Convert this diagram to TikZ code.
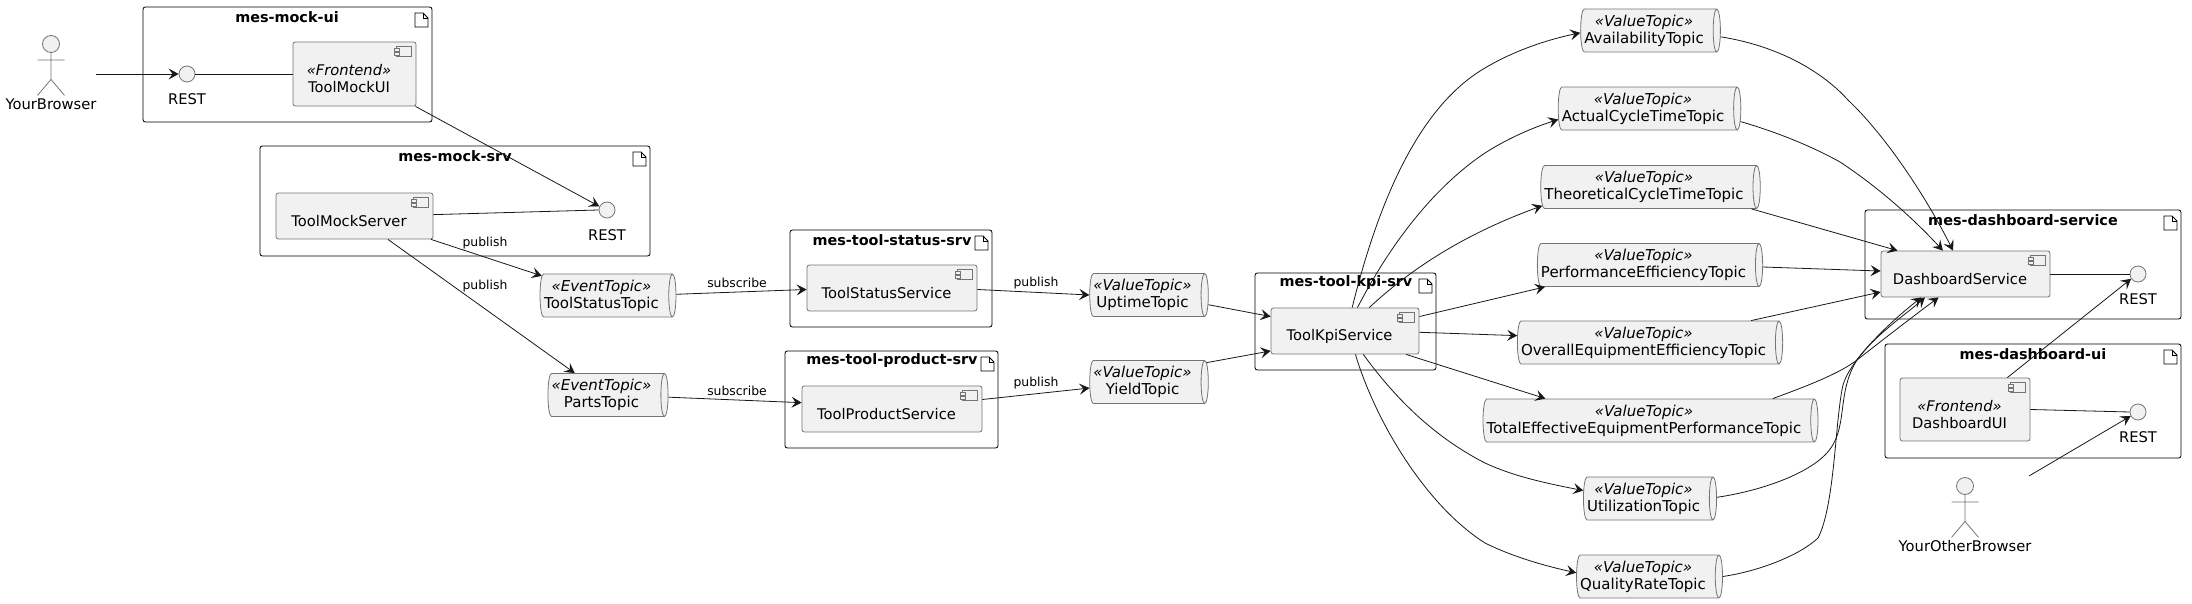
\documentclass[tikz,border=0pt]{standalone}
\usepackage{fontspec}
\setmainfont{DejaVu Sans}
\usetikzlibrary{arrows.meta,shapes.geometric}

\definecolor{umlfill}{HTML}{F1F1F1}
\definecolor{umlline}{HTML}{181818}
\tikzset{
  pkgbox/.style  = {draw=black, line width=0.42pt, rounded corners=1.2pt},
  pkgtitle/.style = {font=\bfseries\fontsize{7.2}{8.5}\selectfont, inner sep=0pt},
  comp/.style    = {draw=umlline!60, fill=umlfill, line width=0.4pt, rounded corners=1.2pt, inner sep=0pt},
  comptext/.style = {label={[font=\fontsize{7.35}{8.5}\selectfont, align=center, inner sep=0pt, shift={(-2.75pt,-2.5pt)}]center:#1}},
  topic/.style   = {draw=umlline!60, fill=umlfill, line width=0.4pt, inner sep=0pt, cylinder,
                    shape aspect=0.23, minimum width=21.5pt, align=center, xshift=-1pt,
                    font=\fontsize{7.5}{8.5}\selectfont},
  iface/.style   = {circle, draw=umlline!60, fill=umlfill, line width=0.4pt, minimum size=8pt, inner sep=0pt},
  txt/.style     = {font=\fontsize{7.35}{8.5}\selectfont, inner sep=0pt},
  edgetxt/.style = {font=\fontsize{6.2}{7.5}\selectfont, inner sep=0pt},
  flow/.style    = {draw=umlline, line width=0.4pt, -{Stealth[length=5pt, width=5.5pt, inset=2pt]}},
  link/.style    = {draw=umlline, line width=0.4pt},
}
\def\fileicon#1#2{
  \draw[line width=0.4pt, fill=white] (#1,#2) -- ++(8,0) -- ++(5,5) -- ++(0,9) -- ++(-13,0) -- cycle;
  \draw[line width=0.4pt] (#1+8,#2) -- ++(0,5) -- ++(5,0);
}
\def\pkg#1#2#3#4#5#6#7{
  \draw[pkgbox] (#2,#3) rectangle (#4,#5);
  \fileicon{#4-17}{#3+6}
  \node[pkgtitle] (#1) at (#7,#3+10) {#6};
}
\def\compicon#1{
  \begin{scope}[shift={(#1.north east)}, draw=umlline!60, line width=0.4pt]
    \draw[fill=umlfill] (-20,5) rectangle (-5,15);
    \draw[fill=umlfill] (-22,7) rectangle (-17,9.5);
    \draw[fill=umlfill] (-22,11) rectangle (-17,13.5);
  \end{scope}
}
\def\actor#1#2#3#4{
  \node[iface, minimum size=8.5pt] (#1) at (#2,#3) {};
  \draw[draw=umlline!60, line width=0.4pt] (#1.south) -- ++(0,26.5) coordinate (#1 hip)
    -- ++(-13.5,16) (#1 hip) -- ++(13.5,16) (#2-13.5,#3+16) -- ++(27,0);
  \node[txt] (#1 name) at (#2,#3+60) {#4};
}
\def\ttext#1#2{\textit{«#1»}\hspace*{4.5pt}\\#2\hspace*{4.5pt}}

\begin{document}
\begin{tikzpicture}[x=0.5pt,y=-0.5pt]
    \useasboundingbox (0,0) rectangle (2192,604);

    % packages
    \pkg{mockui title}{143}{7}{432}{122}{mes-mock-ui}{287}
    \pkg{mocksrv title}{260}{146}{650}{256}{mes-mock-srv}{455}
    \pkg{status title}{790}{230}{992}{327}{mes-tool-status-srv}{892}
    \pkg{product title}{785}{351}{998}{448}{mes-tool-product-srv}{892}
    \pkg{kpi title}{1255}{273}{1436}{370}{mes-tool-kpi-srv}{1346}
    \pkg{dashsvc title}{1865}{210}{2181}{319}{mes-dashboard-service}{2023}
    \pkg{dashui title}{1885}{344}{2181}{458}{mes-dashboard-ui}{2033}

    % components
    \node[comp, minimum width=61.5pt, minimum height=32pt, comptext={\textit{«Frontend»}\\ToolMockUI}] (mockui) at (354.5,74) {};
    \node[comp, minimum width=78.5pt, minimum height=23pt, comptext={ToolMockServer}] (mocksrv) at (354.5,216) {};
    \node[comp, minimum width=85pt, minimum height=23pt, comptext={ToolStatusService}] (statussvc) at (892,288) {};
    \node[comp, minimum width=90pt, minimum height=23pt, comptext={ToolProductService}] (productsvc) at (892,409) {};
    \node[comp, minimum width=74pt, minimum height=23pt, comptext={ToolKpiService}] (kpi) at (1345,331) {};
    \node[comp, minimum width=84.5pt, minimum height=23pt, comptext={DashboardService}] (dashsvc) at (1965.5,274) {};
    \node[comp, minimum width=65pt, minimum height=31.5pt, comptext={\textit{«Frontend»}\\DashboardUI}] (dashui) at (1965,409.5) {};
    \foreach \c in {mockui,mocksrv,statussvc,productsvc,kpi,dashsvc,dashui}
      {\compicon{\c}}

    % interfaces
    \node[iface] (mockuirest) at (187,74) {};
    \node[iface] (mockrest) at (607,210) {};
    \node[iface] (dashrest) at (2138,274) {};
    \node[iface] (uirest) at (2138,412) {};
    \node[txt] (mockuirest name) at (187,99) {REST};
    \node[txt] (mockrest name) at (607,235) {REST};
    \node[txt] (dashrest name) at (2138,299) {REST};
    \node[txt] (uirest name) at (2138,437) {REST};

    % actors
    \actor{browser}{51}{44}{YourBrowser}
    \actor{otherbrowser}{1965}{486}{YourOtherBrowser}
    \coordinate (browser out) at (96,74);
    \coordinate (otherbrowser out) at (2029,476);

    % topics
    \node[topic, minimum height=68pt] (statustopic) at (608,295.5) {\ttext{EventTopic}{ToolStatusTopic}};
    \node[topic, minimum height=58pt] (partstopic) at (608,395) {\ttext{EventTopic}{PartsTopic}};
    \node[topic, minimum height=58pt] (uptime) at (1149,295) {\ttext{ValueTopic}{UptimeTopic}};
    \node[topic, minimum height=58pt] (yield) at (1149,382) {\ttext{ValueTopic}{YieldTopic}};
    \node[topic, minimum height=69.5pt] (avail) at (1650.5,30.5) {\ttext{ValueTopic}{AvailabilityTopic}};
    \node[topic, minimum height=89.5pt] (actual) at (1649.5,108.5) {\ttext{ValueTopic}{ActualCycleTimeTopic}};
    \node[topic, minimum height=108.5pt] (theo) at (1650.5,187) {\ttext{ValueTopic}{TheoreticalCycleTimeTopic}};
    \node[topic, minimum height=112pt] (perf) at (1650,265) {\ttext{ValueTopic}{PerformanceEfficiencyTopic}};
    \node[topic, minimum height=130pt] (overall) at (1650,342.5) {\ttext{ValueTopic}{OverallEquipmentEfficiencyTopic}};
    \node[topic, minimum height=167.5pt] (total) at (1650.5,420.5) {\ttext{ValueTopic}{TotalEffectiveEquipmentPerformanceTopic}};
    \node[topic, minimum height=66pt] (util) at (1650,498.5) {\ttext{ValueTopic}{UtilizationTopic}};
    \node[topic, minimum height=71.5pt] (quality) at (1649.5,576.5) {\ttext{ValueTopic}{QualityRateTopic}};

    % left part
    \draw[flow] (browser out) -- (mockuirest.west);
    \draw[link] (mockuirest.east) -- (mockui.west);
    \draw[flow] (mockui.-28) -- (mockrest.155);
    \draw[link] (mocksrv.1.5) -- (mockrest.west);
    \draw[flow] (mocksrv.-17.4) -- (statustopic.163.5);
    \draw[flow] (mocksrv.-35.3) -- (partstopic.145.5);
    \draw[flow] (statustopic.1) -- (statussvc.181.3);
    \draw[flow] (partstopic.-2) -- (productsvc.176.8);
    \draw[flow] (statussvc.-1.3) -- (uptime.west);
    \draw[flow] (productsvc.6.3) -- (yield.186);
    \draw[flow] (uptime.-9.6) -- (kpi.169);
    \draw[flow] (yield.18.7) -- (kpi.195);
    \node[edgetxt] (publish a) at (485,243) {publish};
    \node[edgetxt] (publish b) at (485,286) {publish};
    \node[edgetxt] (subscribe a) at (737,283) {subscribe};
    \node[edgetxt] (subscribe b) at (737,391) {subscribe};
    \node[edgetxt] (publish c) at (1036,283) {publish};
    \node[edgetxt] (publish d) at (1036,383) {publish};

    % kpi to the topics
    \draw[flow] (kpi.73) .. controls (1385,175) and (1430,100) .. (1485,68) .. controls (1515,50) and (1550,39) .. (avail.182);
    \draw[flow] (kpi.62) .. controls (1395,235) and (1440,183) .. (1485,153) .. controls (1510,137) and (1535,127) .. (actual.187.3);
    \draw[flow] (kpi.44) .. controls (1415,265) and (1470,232) .. (theo.190.4);
    \draw[flow] (kpi.11.5) -- (perf.192);
    \draw[flow] (kpi.-1.5) -- (overall.177.6);
    \draw[flow] (kpi.-21.6) -- (total.168);
    \draw[flow] (kpi.-52) .. controls (1400,405) and (1440,440) .. (1485,463) .. controls (1515,477) and (1550,484) .. (util.173.6);
    \draw[flow] (kpi.-66.5) .. controls (1375,420) and (1425,505) .. (1485,543) .. controls (1515,558) and (1550,567) .. (quality.177);

    % topics to the dashboard
    \draw[flow] (avail.-5.3) .. controls (1790,48) and (1830,80) .. (1848,100) .. controls (1885,135) and (1925,195) .. (dashsvc.118.5);
    \draw[flow] (actual.-8.6) .. controls (1780,133) and (1815,148) .. (1840,162) .. controls (1875,185) and (1910,215) .. (dashsvc.134.4);
    \draw[flow] (theo.-12.6) -- (dashsvc.161.2);
    \draw[flow] (perf.-1.5) -- (dashsvc.178);
    \draw[flow] (overall.12.2) -- (dashsvc.192.7);
    \draw[flow] (total.10.2) .. controls (1810,385) and (1840,373) .. (1857,360) .. controls (1885,338) and (1915,315) .. (dashsvc.221);
    \draw[flow] (util.1.3) .. controls (1760,491) and (1805,475) .. (1825,455) .. controls (1850,430) and (1835,395) .. (1857,360) .. controls (1875,335) and (1905,315) .. (dashsvc.210.9);
    \draw[flow] (quality.0.4) .. controls (1760,571) and (1800,555) .. (1818,538) .. controls (1835,505) and (1835,420) .. (1843,385) .. controls (1850,360) and (1890,322) .. (dashsvc.208.4);

    % right part
    \draw[link] (dashsvc.east) -- (dashrest.west);
    \draw[link] (dashui.east) -- (uirest.west);
    \draw[flow] (dashui.37.5) -- (dashrest.215);
    \draw[flow] (otherbrowser out) -- (uirest.209);
\end{tikzpicture}
\end{document}
